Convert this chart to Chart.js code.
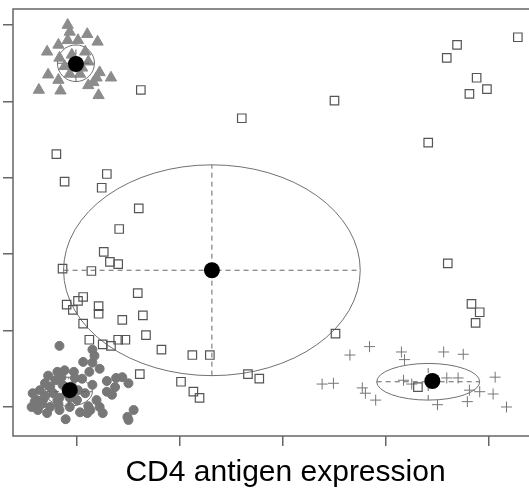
<!DOCTYPE html>
<html>
<head>
<meta charset="utf-8">
<script src="https://cdn.jsdelivr.net/npm/chart.js@4"></script>
<style>
  html, body { margin: 0; padding: 0; background: #fff; overflow: hidden; }
  #wrap { width: 560px; height: 495px; }
</style>
</head>
<body>
<div id="wrap"><canvas id="cd4Chart" width="560" height="495"></canvas></div>
<script>
// Axis ticks (no labels shown, only marks)
const xTicks = [1, 2, 3, 4, 5];
const yTicks = [0, 1, 2, 3, 4, 5];

// Cluster points [x, y]
const squarePts = [
    [1.62, 4.15], [0.80, 3.31], [3.50, 4.01], [2.60, 3.78], [4.41, 3.46], [4.59, 4.57],
    [4.69, 4.74], [5.28, 4.84], [4.88, 4.31], [4.98, 4.16], [4.81, 4.10], [4.60, 1.88],
    [4.83, 1.35], [4.91, 1.24], [4.87, 1.10], [0.88, 2.95], [1.29, 3.05], [1.24, 2.87],
    [1.60, 2.60], [1.41, 2.33], [1.26, 2.03], [1.32, 1.90], [1.40, 1.87], [0.86, 1.81],
    [1.14, 1.78], [1.59, 1.49], [1.06, 1.44], [1.01, 1.39], [0.90, 1.34], [0.96, 1.27],
    [1.21, 1.32], [1.21, 1.22], [1.64, 1.20], [1.44, 1.14], [1.06, 1.09], [1.67, 0.94],
    [1.12, 0.88], [1.25, 0.82], [1.33, 0.80], [1.40, 0.88], [1.47, 0.88], [1.82, 0.75],
    [2.12, 0.68], [2.29, 0.68], [1.61, 0.43], [2.01, 0.33], [2.13, 0.20], [2.19, 0.12],
    [3.51, 0.96], [2.66, 0.43], [2.77, 0.37], [4.31, 0.26]
];
const plusPts = [
    [3.65, 0.68], [3.84, 0.79], [4.15, 0.72], [4.18, 0.62], [4.56, 0.72], [4.75, 0.69],
    [3.38, 0.30], [3.49, 0.31], [3.77, 0.25], [3.80, 0.18], [3.90, 0.09], [4.17, 0.35],
    [4.25, 0.30], [4.59, 0.38], [4.70, 0.38], [4.50, 0.03], [4.79, 0.07], [4.81, 0.22],
    [4.91, 0.20], [5.06, 0.39], [5.04, 0.17], [5.17, 0.00]
];
const trianglePts = [
    [0.91, 5.00], [0.93, 4.91], [1.10, 4.88], [1.20, 4.78], [0.82, 4.74], [0.71, 4.65],
    [0.91, 4.80], [1.01, 4.80], [1.08, 4.65], [0.83, 4.57], [1.11, 4.52], [1.22, 4.38],
    [1.33, 4.31], [0.72, 4.35], [0.82, 4.28], [0.93, 4.36], [1.11, 4.21], [1.19, 4.31],
    [0.63, 4.15], [0.84, 4.14], [1.21, 4.08], [1.03, 4.36], [0.88, 4.46], [1.16, 4.25],
    [0.95, 4.61], [1.05, 4.44]
];
const blobPts = [
    [0.83, 0.80], [1.15, 0.75], [1.17, 0.67], [1.15, 0.58], [1.06, 0.59], [1.22, 0.50],
    [1.12, 0.46], [1.05, 0.37], [0.97, 0.46], [0.88, 0.48], [0.81, 0.46], [0.72, 0.41],
    [1.29, 0.34], [1.38, 0.38], [1.44, 0.39], [1.50, 0.31], [1.37, 0.26], [1.29, 0.20],
    [1.19, 0.09], [1.22, 0.00], [1.13, -0.04], [1.03, -0.07], [1.25, -0.08], [1.10, -0.08],
    [0.89, -0.16], [1.49, -0.13], [1.55, -0.04], [1.50, -0.17], [0.57, 0.18], [0.61, 0.09],
    [0.56, 0.00], [0.62, -0.04], [0.71, -0.08], [0.67, 0.09], [0.74, 0.00], [0.81, 0.09],
    [0.83, -0.04], [0.77, 0.18], [0.90, 0.18], [1.00, 0.09], [0.93, 0.00], [1.08, 0.18],
    [1.11, 0.01], [0.74, 0.26], [0.64, 0.22], [0.69, 0.31], [0.79, 0.35], [0.86, 0.29],
    [0.95, 0.27], [1.01, 0.22], [0.83, 0.12], [0.66, 0.04], [0.98, 0.38], [1.15, 0.29],
    [1.34, 0.16], [0.85, 0.39], [0.59, 0.07], [0.69, 0.14], [0.82, 0.04], [0.93, 0.12]
];

// Cluster centres and their ellipses: centre x, centre y, half-width, half-height
const centroids = [[0.99, 4.49], [2.31, 1.79], [0.93, 0.22], [4.45, 0.34]];
const ellipseCx = [0.99, 2.31, 0.92, 4.41];
const ellipseCy = [4.50, 1.79, 0.20, 0.33];
const ellipseRx = [0.18, 1.44, 0.23, 0.50];
const ellipseRy = [0.24, 1.38, 0.19, 0.24];

const toXY = pts => pts.map(p => ({ x: p[0], y: p[1] }));

// Dashed cross lines through each ellipse
const crossSets = [];
ellipseCx.forEach((cx, i) => {
    const cy = ellipseCy[i], rx = ellipseRx[i], ry = ellipseRy[i];
    [[{ x: cx - rx, y: cy }, { x: cx + rx, y: cy }],
     [{ x: cx, y: cy - ry }, { x: cx, y: cy + ry }]].forEach(seg => {
        crossSets.push({
            type: 'line',
            data: seg,
            showLine: true,
            borderColor: '#666',
            borderWidth: 1,
            borderDash: [5, 4],
            pointRadius: 0,
            fill: false
        });
    });
});

const ellipsePlugin = {
    id: 'ellipses',
    beforeDatasetsDraw(chart) {
        const { ctx, scales: { x, y } } = chart;
        ctx.save();
        ctx.strokeStyle = '#707070';
        ctx.lineWidth = 1;
        ellipseCx.forEach((cx, i) => {
            const px = x.getPixelForValue(cx);
            const py = y.getPixelForValue(ellipseCy[i]);
            const rx = Math.abs(x.getPixelForValue(cx + ellipseRx[i]) - px);
            const ry = Math.abs(y.getPixelForValue(ellipseCy[i] + ellipseRy[i]) - py);
            ctx.beginPath();
            ctx.ellipse(px, py, rx, ry, 0, 0, Math.PI * 2);
            ctx.stroke();
        });
        ctx.restore();
    }
};

const framePlugin = {
    id: 'frame',
    afterDraw(chart) {
        const { ctx, chartArea: a } = chart;
        ctx.save();
        ctx.strokeStyle = '#666';
        ctx.lineWidth = 1.5;
        ctx.strokeRect(a.left, a.top, a.right - a.left, a.bottom - a.top);
        ctx.restore();
    }
};

const ctx = document.getElementById('cd4Chart').getContext('2d');
new Chart(ctx, {
    type: 'scatter',
    data: {
        datasets: [
            {
                data: toXY(centroids),
                pointStyle: 'circle',
                pointRadius: 8,
                backgroundColor: '#000',
                borderColor: '#000',
                borderWidth: 0
            },
            ...crossSets,
            {
                data: toXY(squarePts),
                pointStyle: 'rect',
                pointRadius: 6,
                backgroundColor: 'rgba(0,0,0,0)',
                borderColor: '#555',
                borderWidth: 1.2
            },
            {
                data: toXY(plusPts),
                pointStyle: 'cross',
                pointRadius: 5.5,
                borderColor: '#777',
                borderWidth: 1
            },
            {
                data: toXY(trianglePts),
                pointStyle: 'triangle',
                pointRadius: 6.5,
                backgroundColor: '#8c8c8c',
                borderColor: '#8c8c8c',
                borderWidth: 1
            },
            {
                data: toXY(blobPts),
                pointStyle: 'circle',
                pointRadius: 4.5,
                backgroundColor: '#777',
                borderColor: '#777',
                borderWidth: 1
            }
        ]
    },
    options: {
        responsive: false,
        animation: false,
        layout: { autoPadding: false, padding: { left: 3, top: 9, right: 2, bottom: 4 } },
        plugins: {
            legend: { display: false },
            tooltip: { enabled: false }
        },
        scales: {
            x: {
                type: 'linear',
                min: 0.379,
                max: 5.67,
                afterBuildTicks: scale => { scale.ticks = xTicks.map(v => ({ value: v })); },
                ticks: { display: false },
                grid: { drawOnChartArea: false, drawTicks: true, tickLength: 10, color: '#666', lineWidth: 1.5 },
                border: { display: false },
                title: {
                    display: true,
                    text: 'CD4 antigen expression',
                    color: '#000',
                    font: { family: 'Liberation Sans, Arial, sans-serif', size: 30 },
                    padding: { top: 9, bottom: 0 }
                }
            },
            y: {
                type: 'linear',
                min: -0.38,
                max: 5.21,
                afterBuildTicks: scale => { scale.ticks = yTicks.map(v => ({ value: v })); },
                ticks: { display: false },
                grid: { drawOnChartArea: false, drawTicks: true, tickLength: 10, color: '#666', lineWidth: 1.5 },
                border: { display: false }
            }
        }
    },
    plugins: [ellipsePlugin, framePlugin]
});
</script>
</body>
</html>
